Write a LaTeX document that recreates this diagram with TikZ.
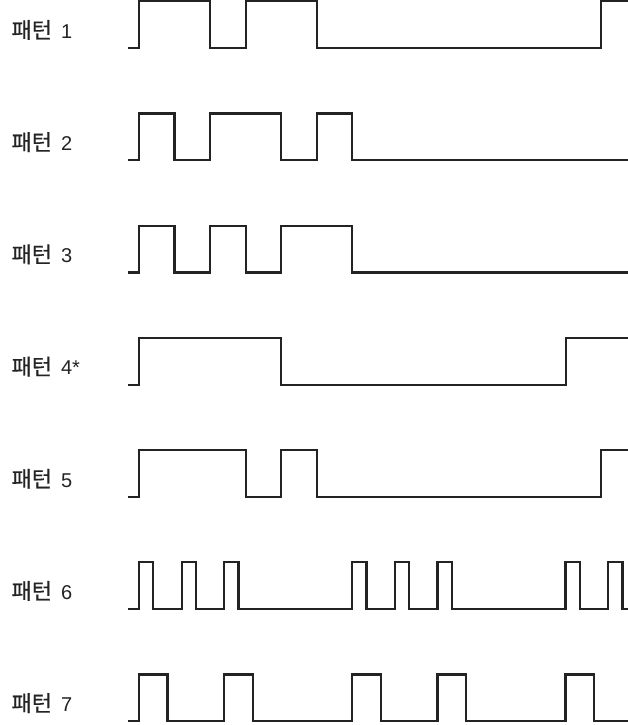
\documentclass[tikz,border=0pt]{standalone}
\usepackage{fontspec}
\setmainfont{Liberation Sans}
\newfontfamily\kr[FakeBold=0.4]{Noto Sans CJK KR}
\definecolor{wavec}{RGB}{35,35,35}
\begin{document}
\begin{tikzpicture}[x=1pt,y=-1pt,
  wave/.style={draw=wavec,line width=2.3pt,line join=miter,line cap=butt},
  lbl/.style={anchor=base west,inner sep=0pt,outer sep=0pt,text=wavec}]
\useasboundingbox (0,0) rectangle (628,725);
\newcommand{\lab}[3]{\node[lbl] (#1) at (11.5,#2) {\fontsize{20}{20}\selectfont{\kr\fontsize{22}{22}\selectfont 패턴} \hspace{3.5pt}#3};}
% labels
\lab{l1}{38.2}{1}
\lab{l2}{150.4}{2}
\lab{l3}{262.6}{3}
\lab{l4}{374.8}{4*}
\lab{l5}{487.0}{5}
\lab{l6}{599.2}{6}
\lab{l7}{711.4}{7}
% pattern 1
\draw[wave] (128,48.1) -| (139,1.3) -| (210.1,48.1) -| (245.7,1.3) -| (316.8,48.1) -| (601.3,1.3) -- (628,1.3);
% pattern 2
\draw[wave] (128,160.3) -| (139,113.5) -| (174.6,160.3) -| (210.1,113.5) -| (281.2,160.3) -| (316.8,113.5) -| (352.3,160.3) -- (628,160.3);
% pattern 3
\draw[wave] (128,272.5) -| (139,225.7) -| (174.6,272.5) -| (210.1,225.7) -| (245.7,272.5) -| (281.2,225.7) -| (352.3,272.5) -- (628,272.5);
% pattern 4
\draw[wave] (128,384.7) -| (139,337.9) -| (281.2,384.7) -| (565.7,337.9) -- (628,337.9);
% pattern 5
\draw[wave] (128,496.9) -| (139,450.1) -| (245.7,496.9) -| (281.2,450.1) -| (316.8,496.9) -| (601.3,450.1) -- (628,450.1);
% pattern 6
\draw[wave] (128,609.1) -| (139,562.3) -| (153.2,609.1) -| (181.7,562.3) -| (195.9,609.1) -| (224.3,562.3) -| (238.5,609.1)
  -| (352.3,562.3) -| (366.5,609.1) -| (395.0,562.3) -| (409.2,609.1) -| (437.6,562.3) -| (451.8,609.1)
  -| (565.6,562.3) -| (579.8,609.1) -| (608.3,562.3) -| (622.5,609.1) -- (628,609.1);
% pattern 7
\draw[wave] (128,721.3) -| (139,674.5) -| (167.4,721.3) -| (224.3,674.5) -| (252.8,721.3) -| (352.3,674.5) -| (380.7,721.3)
  -| (437.6,674.5) -| (466.0,721.3) -| (565.6,674.5) -| (594.0,721.3) -- (628,721.3);
\end{tikzpicture}
\end{document}
